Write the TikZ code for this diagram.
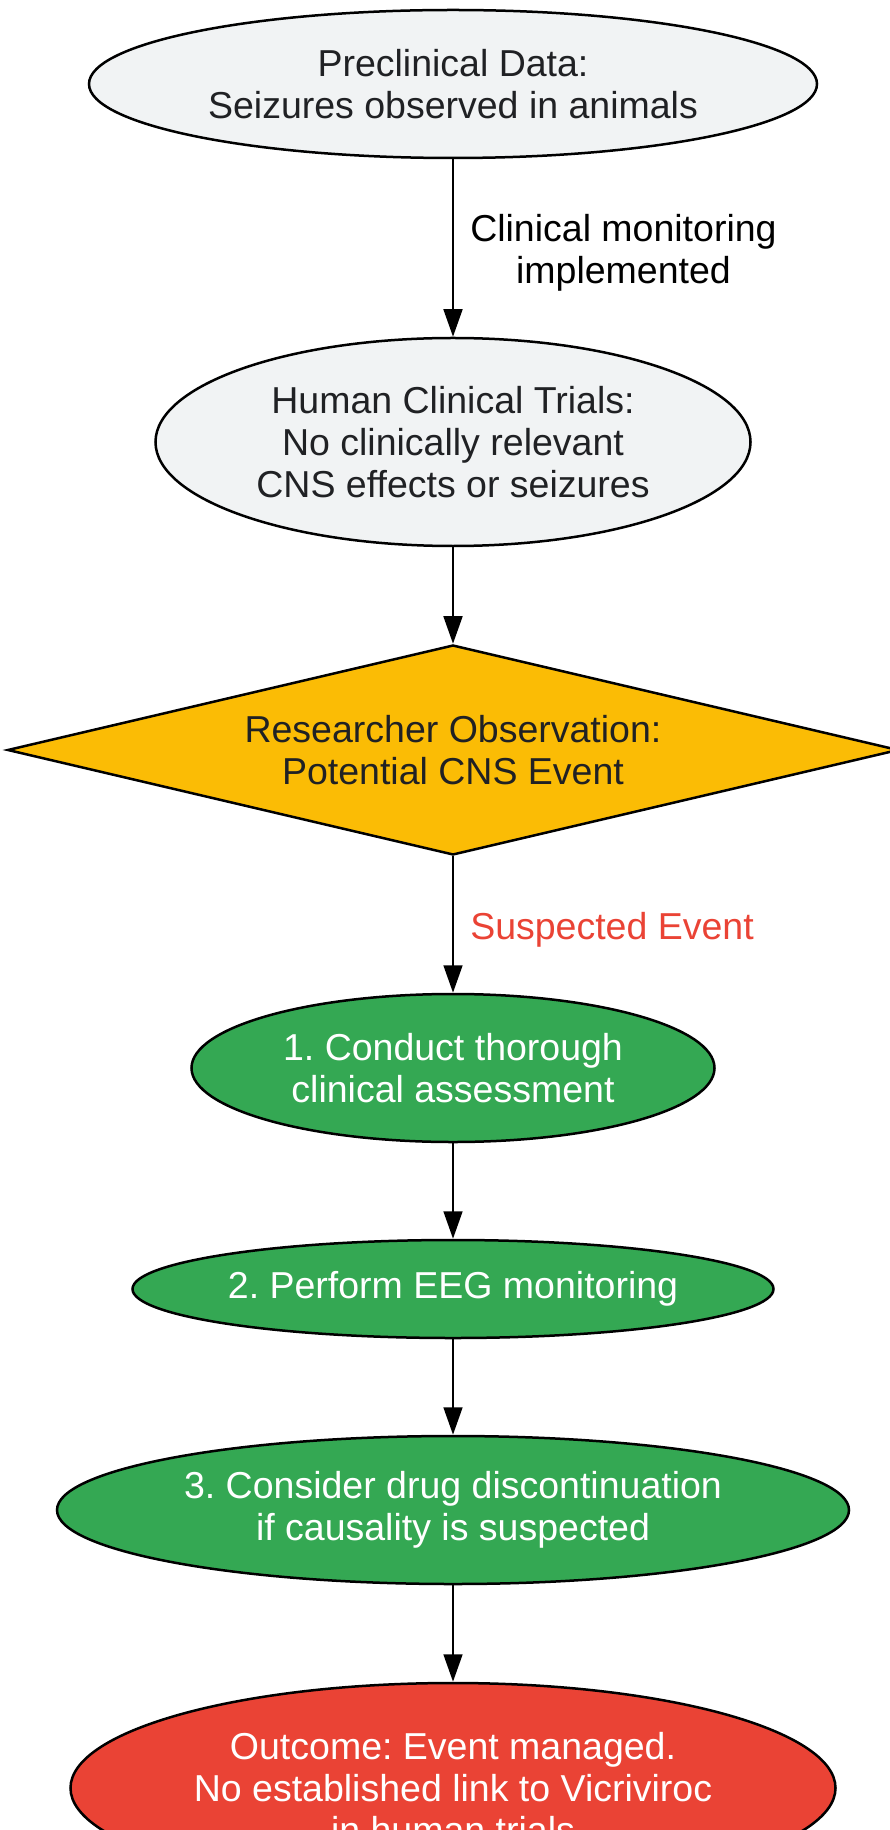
\documentclass[tikz,border=0pt]{standalone}
\usepackage{fontspec}
\setmainfont{Liberation Sans}
\usetikzlibrary{shapes.geometric,arrows.meta}
\definecolor{datagray}{HTML}{F1F3F4}
\definecolor{inkgray}{HTML}{202124}
\definecolor{warnyellow}{HTML}{FBBC05}
\definecolor{stepgreen}{HTML}{34A853}
\definecolor{alertred}{HTML}{EA4335}
\tikzset{%
    base/.style={%
        draw=black, line width=1pt, inner sep=0pt, align=center, font=\fontsize{15}{16.8}\selectfont\frenchspacing
    },
    fact/.style={%
        base, ellipse, fill=datagray, text=inkgray
    },
    decision/.style={%
        base, diamond, aspect=4.24, fill=warnyellow, text=inkgray
    },
    action/.style={%
        base, ellipse, fill=stepgreen, text=white
    },
    outcome_box/.style={%
        base, ellipse, fill=alertred, text=white
    },
    flow/.style={%
        -{Triangle[length=11pt,width=7.5pt]}, line width=1pt
    },
    edgelabel/.style={%
        anchor=west, xshift=6.4pt, yshift=-2pt, inner sep=0pt, align=center, font=\fontsize{15}{16.8}\selectfont\frenchspacing
    },
}
\begin{document}
\begin{tikzpicture}[x=0.4pt,y=-0.4pt]

    \useasboundingbox (0,0) rectangle (890,1830);

    \node[fact, minimum width=291.2pt, minimum height=59.2pt] (preclinical) at (453,84) {Preclinical Data:\\Seizures observed in animals};
    \node[fact, minimum width=238pt, minimum height=83.2pt] (human) at (453,442) {Human Clinical Trials:\\No clinically relevant\\CNS effects or seizures};
    \node[decision, minimum width=356.4pt, minimum height=84pt] (observe) at (453,750) {Researcher Observation:\\Potential CNS Event};

    \begin{scope}
      \node[action, minimum width=209.2pt, minimum height=59.2pt] (assess) at (453,1068) {1. Conduct thorough\\clinical assessment};
      \node[action, minimum width=256.4pt, minimum height=39.2pt] (eeg) at (453,1289) {2. Perform EEG monitoring};
      \node[action, minimum width=316.8pt, minimum height=59.2pt] (discontinue) at (453,1510) {3. Consider drug discontinuation\\if causality is suspected};
    \end{scope}

    \node[outcome_box, minimum width=306pt, minimum height=84pt] (outcome) at (453,1788) {Outcome: Event managed.\\No established link to Vicriviroc\\in human trials};

    \draw[flow] (preclinical) -- (human) node[midway, edgelabel] {Clinical monitoring\\implemented};
    \draw[flow] (human) -- (observe);
    \draw[flow] (observe) -- (assess) node[midway, edgelabel, text=alertred] {Suspected Event};
    \draw[flow] (assess) -- (eeg);
    \draw[flow] (eeg) -- (discontinue);
    \draw[flow] (discontinue) -- (outcome);

  \end{tikzpicture}
\end{document}
